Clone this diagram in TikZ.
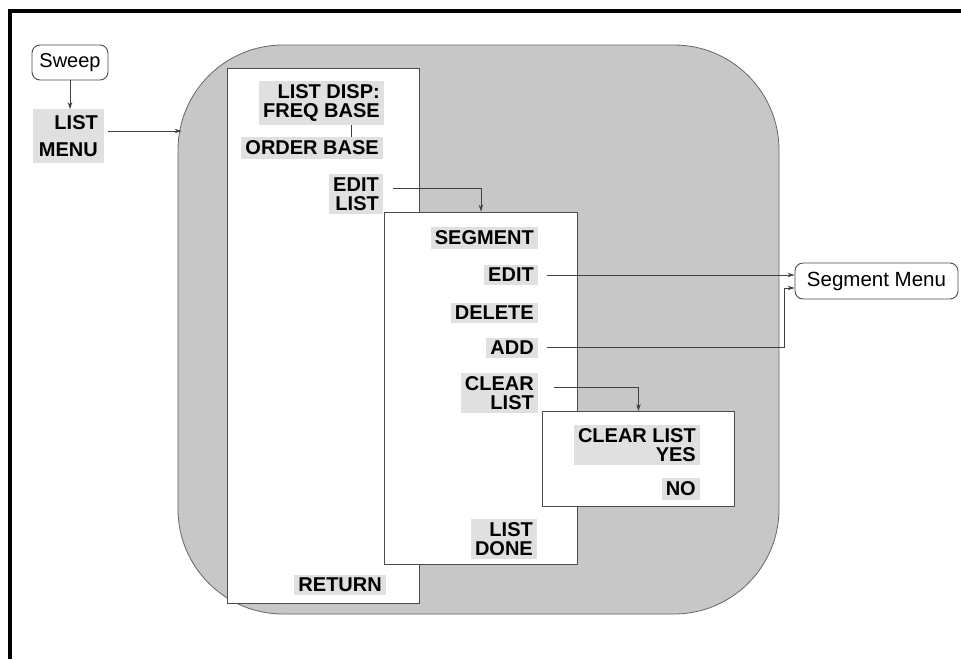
\documentclass[tikz,border=0pt]{standalone}
\usepackage{fontspec}
\setmainfont{Liberation Sans}
\usetikzlibrary{arrows.meta}
\begin{document}
\begin{tikzpicture}[x=1pt,y=-1pt,
 arr/.style={draw=black!75, line width=0.8pt, -{Stealth[length=7pt,width=4.5pt]}},
 wire/.style={draw=black!75, line width=0.8pt},
 panel/.style={draw=black!70, line width=0.9pt, fill=white, anchor=north west, inner sep=0pt},
 lbl/.style={fill=black!12, font=\fontsize{20}{19}\selectfont\bfseries, inner xsep=4pt, inner ysep=3.5pt, align=right, anchor=east},
 hard/.style={draw=black!70, line width=0.9pt, fill=white, rounded corners=8pt, font=\fontsize{20}{24}\selectfont, inner sep=0pt}
]
\useasboundingbox (0,0) rectangle (961,659);
\draw[line width=3.5pt] (10,659) -- (10,10.8) -- (961,10.8);

% big shaded region
\node[draw=black!60, line width=0.8pt, fill=black!22, rounded corners=105pt,
      minimum width=601pt, minimum height=569pt, inner sep=0pt] (region) at (478.5,329.5) {};

% panels
\node[panel, minimum width=192pt, minimum height=535pt] (p1) at (227,68) {};
\node[panel, minimum width=193pt, minimum height=352pt] (p2) at (384,211.5) {};
\node[panel, minimum width=192pt, minimum height=95pt] (p3) at (542,411) {};

% hardkeys
\node[hard, minimum width=76pt, minimum height=35pt] (sweep) at (70,62.5) {Sweep};
\node[hard, minimum width=163pt, minimum height=36pt, font=\fontsize{20.5}{24}\selectfont] (segmenu) at (876.5,281) {Segment Menu};

% labels
\node[lbl, inner xsep=6pt, inner ysep=6pt, font=\fontsize{20}{27}\selectfont\bfseries] (listmenu) at (104,136) {LIST\\MENU};
\node[lbl] (freq) at (384,103) {LIST DISP:\\FREQ BASE};
\node[lbl] (order) at (383,148) {ORDER BASE};
\node[lbl] (editlist) at (383,194) {EDIT\\LIST};
\node[lbl] (segment) at (538,238) {SEGMENT};
\node[lbl] (edit) at (538,275) {EDIT};
\node[lbl] (delete) at (538,313) {DELETE};
\node[lbl] (add) at (538,348) {ADD};
\node[lbl] (clearlist) at (538,393) {CLEAR\\LIST};
\node[lbl] (listdone) at (537,539) {LIST\\DONE};
\node[lbl] (return) at (386,585) {RETURN};
\node[lbl] (clearyes) at (700,445) {CLEAR LIST\\YES};
\node[lbl] (no) at (700,489) {NO};

% connectors
\draw[arr] (sweep.south) -- (sweep.south |- listmenu.north);
\draw[arr] ([shift={(4,-5)}]listmenu.east) -- ([shift={(4,-5)}]listmenu.east -| region.west);
\draw[wire] ([xshift=30pt]freq.south) -- ([xshift=30pt]freq.south |- order.north);
\draw[arr] ([shift={(10,-6)}]editlist.east) -| (p2.north);
\draw[arr] ([shift={(9,0)}]edit.east) -- (edit.east -| segmenu.west);
\draw[arr] ([shift={(9,-1)}]add.east) -| ([shift={(-10,7)}]segmenu.west) -- ([shift={(0,7)}]segmenu.west);
\draw[arr] ([shift={(16,-6)}]clearlist.east) -| (p3.north);
\end{tikzpicture}
\end{document}
